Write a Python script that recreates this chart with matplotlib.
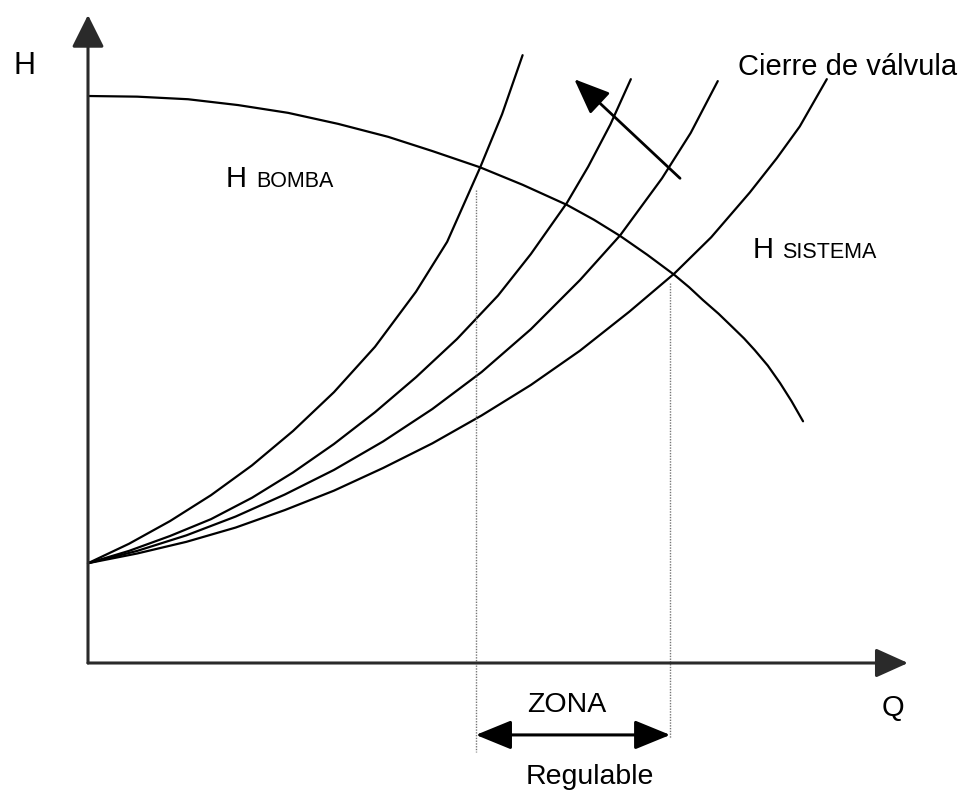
import matplotlib
matplotlib.use("Agg")
import matplotlib.pyplot as plt

plt.rcParams['font.family'] = ['Liberation Sans', 'DejaVu Sans']

# Pump curve (H bomba)
pump_q = [0.00, 0.60, 1.22, 1.83, 2.44, 3.05, 3.66, 4.20, 4.78, 5.30, 5.84, 6.17, 6.49,
          6.82, 7.15, 7.33, 7.50, 7.69, 7.87, 8.00, 8.13, 8.29, 8.44, 8.58, 8.72]
pump_h = [8.75, 8.74, 8.70, 8.61, 8.49, 8.32, 8.12, 7.90, 7.65, 7.38, 7.07, 6.84, 6.59,
          6.30, 5.99, 5.80, 5.60, 5.39, 5.17, 5.01, 4.83, 4.59, 4.32, 4.04, 3.73]

# System curves (valve closing: 1 = most closed)
sys1_q = [0.00, 0.50, 1.00, 1.50, 2.00, 2.50, 3.00, 3.50, 4.00, 4.38, 4.78, 5.05, 5.30]
sys1_h = [1.54, 1.84, 2.19, 2.59, 3.05, 3.58, 4.18, 4.88, 5.73, 6.50, 7.64, 8.47, 9.38]

sys2_q = [0.00, 0.50, 1.00, 1.50, 2.00, 2.50, 3.00, 3.50, 4.00, 4.50, 5.00, 5.40, 5.84,
          6.10, 6.37, 6.62]
sys2_h = [1.54, 1.73, 1.96, 2.22, 2.55, 2.94, 3.38, 3.87, 4.41, 5.00, 5.67, 6.31, 7.10,
          7.66, 8.31, 9.01]

sys3_q = [0.00, 0.60, 1.20, 1.80, 2.40, 3.00, 3.60, 4.20, 4.80, 5.40, 6.00, 6.49, 7.00,
          7.35, 7.68]
sys3_h = [1.54, 1.73, 1.97, 2.26, 2.60, 2.98, 3.42, 3.92, 4.49, 5.15, 5.91, 6.60, 7.48,
          8.18, 8.98]

sys4_q = [0.00, 0.60, 1.20, 1.80, 2.40, 3.00, 3.60, 4.20, 4.80, 5.40, 6.00, 6.60, 7.15,
          7.60, 8.07, 8.40, 8.68, 9.01]
sys4_h = [1.54, 1.69, 1.87, 2.09, 2.36, 2.66, 3.01, 3.39, 3.82, 4.29, 4.82, 5.42, 6.01,
          6.57, 7.26, 7.79, 8.28, 9.01]

# Operating zone limits (Q)
zone_q = [4.73, 7.10]

fig = plt.figure(figsize=(9.71, 7.91), dpi=100)
ax = fig.add_axes([0, 0, 1, 1])
ax.set_xlim(-88 / 82, (971 - 88) / 82)
ax.set_ylim(-(791 - 663) / 64.8, 663 / 64.8)
ax.axis('off')

lw = 1.6
ax.plot(pump_q, pump_h, color='black', lw=lw, solid_capstyle='round',
        solid_joinstyle='round')
for q, h in [(sys1_q, sys1_h), (sys2_q, sys2_h), (sys3_q, sys3_h), (sys4_q, sys4_h)]:
    ax.plot(q, h, color='black', lw=lw, solid_capstyle='round', solid_joinstyle='round')

# Axes with arrows
axis_col = '#2a2a2a'
ax.annotate('', xy=(10.0, 0), xytext=(0, 0),
            arrowprops=dict(arrowstyle='-|>,head_length=1.0,head_width=0.45',
                            color=axis_col, lw=2.2, mutation_scale=20,
                            shrinkA=0, shrinkB=0))
ax.annotate('', xy=(0, 10.0), xytext=(0, 0),
            arrowprops=dict(arrowstyle='-|>,head_length=1.0,head_width=0.5',
                            color=axis_col, lw=2.2, mutation_scale=20,
                            shrinkA=0, shrinkB=0))

# Dotted verticals
ax.plot([zone_q[0], zone_q[0]], [7.30, -1.37], color='#777777', lw=1.0, ls=(0, (1, 1)))
ax.plot([zone_q[1], zone_q[1]], [5.86, -1.16], color='#777777', lw=1.0, ls=(0, (1, 1)))

# Double arrow for zone
ax.annotate('', xy=(zone_q[1], -1.11), xytext=(zone_q[0], -1.11),
            arrowprops=dict(arrowstyle='<|-|>,head_length=1.1,head_width=0.45',
                            color='black', lw=2.2, mutation_scale=20,
                            shrinkA=0, shrinkB=0))

# Valve closing direction arrow
ax.annotate('', xy=(5.93, 9.01), xytext=(7.22, 7.48),
            arrowprops=dict(arrowstyle='-|>,head_length=1.1,head_width=0.45',
                            color='black', lw=2.0, mutation_scale=20,
                            shrinkA=0, shrinkB=0))

# Texts
ax.text(-0.78, 9.21, 'H', fontsize=22, ha='center', va='center')
ax.text(1.68, 7.35, 'H', fontsize=21, ha='left', va='baseline')
ax.text(2.05, 7.35, 'BOMBA', fontsize=15.5, ha='left', va='baseline')
ax.text(8.10, 6.25, 'H', fontsize=21, ha='left', va='baseline')
ax.text(8.47, 6.25, 'SISTEMA', fontsize=15.5, ha='left', va='baseline')
ax.text(7.93, 9.07, 'Cierre de válvula', fontsize=21, ha='left', va='baseline')
ax.text(5.84, -0.65, 'ZONA', fontsize=20.5, ha='center', va='center')
ax.text(9.82, -0.69, 'Q', fontsize=21, ha='center', va='center')
ax.text(6.12, -1.76, 'Regulable', fontsize=20.5, ha='center', va='center')

fig.savefig('out.png', dpi=100)
